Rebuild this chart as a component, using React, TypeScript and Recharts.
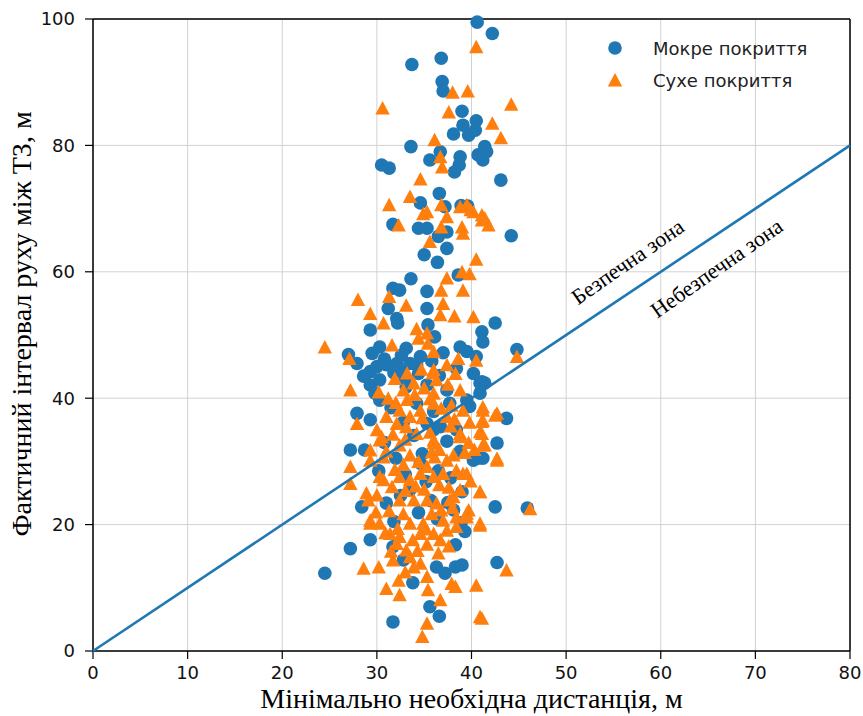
import React from 'react';
import { ScatterChart, Scatter, XAxis, YAxis, CartesianGrid, Legend, ReferenceLine, ReferenceDot } from 'recharts';

// Мокре покриття: [мінімальна дистанція, фактичний інтервал]
const wetPoints: [number, number][] = [
  [40.6, 99.5], [42.2, 97.7], [33.7, 92.8], [36.8, 93.8], [36.9, 90.1], [37.0, 88.6], [39.0, 85.4], [40.5, 83.9],
  [39.1, 83.2], [38.1, 81.8], [39.7, 81.6], [40.4, 82.4], [33.6, 79.8], [36.7, 79.0], [35.6, 77.7], [38.8, 78.2],
  [38.7, 76.9], [38.2, 75.8], [41.4, 79.8], [41.6, 79.0], [41.2, 77.7], [40.7, 78.5], [30.5, 76.9], [31.3, 76.4],
  [43.1, 74.5], [36.6, 72.4], [34.6, 70.9], [37.2, 70.3], [38.9, 70.5], [39.6, 70.4],
  [44.2, 65.7], [31.7, 67.5], [34.4, 66.9], [35.3, 66.9], [37.4, 66.3], [36.5, 65.6], [37.4, 63.7], [35.0, 62.7],
  [36.4, 61.5], [38.6, 59.5], [33.6, 58.9], [31.7, 57.4], [32.4, 57.1], [35.3, 56.9], [31.2, 54.2], [35.3, 54.2],
  [32.1, 52.6], [32.2, 51.9], [29.3, 50.8], [35.4, 51.6], [36.1, 49.7], [42.5, 51.9], [41.1, 50.5], [41.2, 48.9],
  [44.8, 47.7], [27.0, 46.9], [27.9, 45.5], [29.5, 47.1], [30.3, 48.1], [33.1, 47.9], [38.8, 48.1], [39.5, 47.4],
  [40.5, 46.6], [37.0, 47.2],
  [29.3, 44.2], [29.3, 42.1], [31.0, 45.3], [32.1, 45.5], [32.4, 44.5], [33.5, 45.5], [34.2, 45.3], [34.4, 43.9],
  [38.4, 44.7], [40.2, 43.9], [41.1, 42.6], [41.4, 42.4], [30.3, 42.9], [33.1, 41.8], [35.3, 42.1], [37.4, 41.3],
  [40.9, 40.8], [30.0, 45.0], [30.8, 46.2], [31.8, 44.0], [33.0, 43.2], [34.6, 46.6], [35.8, 45.9], [36.6, 43.6],
  [32.6, 46.8], [29.8, 40.8], [28.6, 43.5],
  [27.9, 37.6], [29.3, 36.6], [43.7, 36.8], [27.2, 31.8], [28.7, 31.8], [42.7, 32.9], [40.2, 30.2], [41.2, 30.5],
  [28.4, 22.8], [42.5, 22.8], [39.0, 25.2], [45.9, 22.6], [31.0, 23.4], [37.5, 23.5],
  [30.3, 39.7], [34.2, 39.2], [35.3, 36.0], [36.7, 35.5], [38.4, 35.0], [39.8, 38.7], [37.7, 39.2], [40.7, 30.5],
  [39.5, 39.7], [40.9, 42.4], [36.0, 35.0], [34.6, 29.7], [33.5, 25.5], [38.1, 22.3],
  [31.5, 38.5], [32.8, 36.2], [33.9, 34.1], [30.8, 33.0], [32.0, 30.5], [34.8, 31.2], [36.5, 28.5], [35.2, 26.8],
  [37.8, 27.4], [33.0, 27.9], [38.8, 31.6], [36.0, 37.9], [37.4, 33.2], [30.2, 28.5], [32.5, 24.6], [34.4, 21.9],
  [36.4, 20.9], [38.9, 20.3], [35.7, 23.8], [31.8, 20.5],
  [24.5, 12.3], [27.2, 16.2], [29.3, 17.6], [31.7, 4.6], [33.8, 10.8], [35.6, 7.0], [36.6, 5.5], [36.3, 13.3],
  [37.2, 12.3], [38.3, 13.3], [39.0, 13.6], [38.3, 16.8], [42.7, 14.0], [39.3, 18.9], [32.8, 14.4], [31.7, 16.5],
];

// Сухе покриття
const dryPoints: [number, number][] = [
  [40.5, 95.6], [38.0, 88.4], [39.6, 88.6], [44.2, 86.5], [30.6, 85.9], [37.6, 85.3], [42.2, 83.5], [43.1, 81.2],
  [36.1, 80.9], [36.7, 78.2], [36.9, 76.6], [34.6, 74.7], [33.5, 71.9], [31.3, 70.6], [35.3, 69.5], [36.8, 70.6],
  [38.8, 70.3], [39.9, 69.8], [41.1, 69.0],
  [39.5, 70.6], [40.2, 69.5], [41.1, 68.2], [41.4, 68.5], [41.8, 67.4], [34.9, 69.2], [37.4, 68.7], [32.3, 67.4],
  [36.8, 67.1], [39.0, 67.1], [39.1, 66.1], [35.6, 64.8], [40.5, 62.0], [39.0, 60.0], [39.8, 59.7], [37.4, 59.0],
  [36.8, 57.1], [39.1, 57.1], [28.0, 55.6], [31.3, 56.1], [37.0, 55.0], [33.1, 54.7], [29.3, 53.4], [36.7, 53.2],
  [38.2, 53.0], [40.2, 52.9], [30.7, 51.9], [34.2, 51.0], [35.3, 50.3], [34.4, 49.5], [35.4, 48.7], [36.0, 47.4],
  [24.5, 48.1], [31.6, 48.4], [27.1, 46.3], [40.5, 46.0], [44.8, 46.6], [36.0, 44.5], [37.4, 45.3], [38.3, 43.9],
  [36.3, 42.9], [31.9, 43.1], [33.9, 42.4], [32.8, 41.3], [27.2, 41.3], [30.2, 41.0], [36.0, 40.8], [38.8, 41.3],
  [27.9, 36.0], [27.2, 29.2], [27.2, 26.5], [28.9, 25.0], [29.3, 31.8], [30.5, 33.9], [30.7, 27.1], [29.1, 23.9],
  [40.9, 25.2], [41.2, 38.1], [42.7, 37.6], [41.1, 36.3], [41.1, 34.4], [41.4, 32.6], [42.7, 30.2], [39.7, 22.3],
  [46.2, 22.5], [36.0, 32.9],
  [31.0, 37.1], [32.4, 38.1], [33.5, 37.1], [34.6, 38.1], [36.0, 39.2], [37.4, 37.1], [38.8, 34.4], [39.1, 38.1],
  [32.1, 36.0], [33.1, 35.5], [34.2, 34.4], [32.4, 32.6], [33.5, 31.0], [34.4, 30.0], [35.3, 29.2], [36.1, 30.7],
  [37.4, 30.2], [38.1, 31.0], [32.4, 27.6], [33.5, 27.1], [34.6, 28.1], [36.0, 27.6], [37.0, 28.1], [38.4, 28.6],
  [39.1, 28.1], [30.3, 27.6], [31.6, 26.0], [29.3, 30.2], [30.7, 30.7], [32.4, 23.9], [33.9, 23.9], [35.3, 23.9],
  [36.3, 23.4], [37.7, 23.9], [38.8, 25.5], [29.3, 20.7], [30.3, 20.2], [33.5, 20.2], [34.9, 20.2], [37.0, 20.7],
  [38.4, 21.2], [39.5, 21.2], [40.9, 20.2], [30.0, 35.0], [30.3, 33.4],
  [41.2, 38.6], [42.5, 37.3], [41.2, 36.5], [40.9, 34.7], [41.2, 32.6], [42.7, 30.5], [40.9, 25.2], [38.8, 33.9],
  [36.0, 33.4], [39.5, 28.1], [38.1, 24.4], [39.5, 21.8],
  [31.2, 40.0], [32.0, 39.3], [33.2, 39.8], [34.0, 40.6], [35.0, 41.6], [35.6, 39.9], [36.8, 38.4], [37.9, 38.9],
  [38.2, 36.7], [39.8, 36.2], [39.7, 33.0], [37.8, 35.6], [35.6, 34.6], [34.8, 36.9], [33.0, 33.5], [31.7, 34.3],
  [31.0, 31.6], [32.8, 29.5], [35.8, 31.5], [36.6, 26.3], [37.6, 25.9], [35.0, 25.6], [34.1, 26.1], [33.0, 25.4],
  [31.9, 28.7], [30.0, 24.7], [31.3, 22.2], [32.8, 21.7], [35.8, 21.7], [36.8, 22.3], [38.0, 22.7], [32.2, 19.4],
  [33.8, 17.6], [35.3, 16.9], [35.2, 19.3], [37.6, 16.6], [31.5, 15.8], [34.3, 15.9], [33.0, 12.5], [29.9, 22.0],
  [39.9, 26.9], [40.3, 31.9], [39.3, 31.4], [36.6, 31.9], [35.9, 44.0], [34.7, 44.6], [33.2, 44.0], [38.6, 46.3],
  [37.5, 42.2],
  [28.6, 13.1], [30.2, 13.3], [43.7, 12.8], [31.7, 14.4], [31.0, 9.9], [32.4, 8.9], [32.3, 11.2], [33.9, 13.3],
  [35.3, 11.8], [35.4, 9.7], [36.7, 8.1], [37.9, 10.7], [38.3, 10.2], [40.5, 10.4], [40.9, 5.4], [41.1, 5.2],
  [35.3, 4.4], [34.8, 2.3], [40.9, 19.9], [29.3, 20.2],
  [31.4, 18.6], [32.4, 18.1], [32.1, 17.0], [33.1, 16.0], [33.5, 14.9], [34.6, 18.6], [36.0, 18.6], [36.7, 17.6],
  [37.4, 19.1], [38.4, 19.7], [36.5, 15.5], [34.6, 13.9], [30.9, 18.7],
];

// межа безпечної зони: інтервал = дистанція
const boundary: [number, number][] = [[0, 0], [80, 80]];

const xTicks = [0, 10, 20, 30, 40, 50, 60, 70, 80];
const yTicks = [0, 20, 40, 60, 80, 100];

const seriesNames = ['Мокре покриття', 'Сухе покриття'];
const zoneLabels = [
  { x: 56.5, y: 61.6, text: 'Безпечна зона' },
  { x: 65.9, y: 60.6, text: 'Небезпечна зона' },
];

const BLUE = '#1f77b4';
const ORANGE = '#ff7f0e';
const serif = '"Liberation Serif", "Times New Roman", serif';
const sans = '"DejaVu Sans", sans-serif';

const toXY = (pts: [number, number][]) => pts.map(([x, y]) => ({ x, y }));

const Circle = ({ cx, cy }: any) => <circle cx={cx} cy={cy} r={6.8} fill={BLUE} />;

const Triangle = ({ cx, cy }: any) => (
  <path d={`M${cx},${cy - 7}L${cx + 7.2},${cy + 6.5}L${cx - 7.2},${cy + 6.5}Z`} fill={ORANGE} />
);

const NoDot = () => <g />;

const LegendBox = () => (
  <svg width={250} height={64} style={{ display: 'block' }}>
    <circle cx={15} cy={16} r={6.8} fill={BLUE} />
    <path d="M15,41L22.2,54.5L7.8,54.5Z" fill={ORANGE} />
    <text x={53} y={16} dominantBaseline="central" fontFamily={sans} fontSize={18} fill="#222">{seriesNames[0]}</text>
    <text x={53} y={48} dominantBaseline="central" fontFamily={sans} fontSize={18} fill="#222">{seriesNames[1]}</text>
  </svg>
);

const tickStyle = { fontFamily: sans, fontSize: 18, fill: '#111' };

export default function App() {
  return (
    <div style={{ position: 'absolute', left: 0, top: 0, width: 863, height: 716, background: '#fff' }}>
      <ScatterChart width={863} height={716} margin={{ top: 19, right: 13, bottom: 0, left: 33 }}>
        <CartesianGrid stroke="#d2d2d2" strokeWidth={1} />
        <XAxis
          type="number"
          dataKey="x"
          domain={[0, 80]}
          ticks={xTicks}
          height={65}
          tick={tickStyle}
          tickSize={8}
          tickMargin={7}
          axisLine={{ stroke: '#000', strokeWidth: 1.5 }}
          tickLine={{ stroke: '#000', strokeWidth: 1.2 }}
          label={{
            content: ({ viewBox }: any) => (
              <text x={viewBox.x + viewBox.width / 2} y={viewBox.y + 57} textAnchor="middle" fontFamily={serif} fontSize={28} fill="#000">
                Мінімально необхідна дистанція, м
              </text>
            ),
          }}
        />
        <YAxis
          type="number"
          dataKey="y"
          domain={[0, 100]}
          ticks={yTicks}
          width={60}
          tick={tickStyle}
          tickSize={8}
          tickMargin={10}
          axisLine={{ stroke: '#000', strokeWidth: 1.5 }}
          tickLine={{ stroke: '#000', strokeWidth: 1.2 }}
          label={{
            content: ({ viewBox }: any) => {
              const cx = 21;
              const cy = viewBox.y + viewBox.height / 2 - 11;
              return (
                <text x={cx} y={cy} transform={`rotate(-90 ${cx} ${cy})`} textAnchor="middle" dominantBaseline="central" fontFamily={serif} fontSize={28} fill="#000">
                  Фактичний інтервал руху між ТЗ, м
                </text>
              );
            },
          }}
        />
        <ReferenceLine y={100} stroke="#000" strokeWidth={1.5} />
        <ReferenceLine x={80} stroke="#000" strokeWidth={1.5} />
        <Legend
          layout="vertical"
          align="center"
          verticalAlign="middle"
          wrapperStyle={{ top: 32, left: 600, width: 250 }}
          content={() => <LegendBox />}
        />
        <Scatter name={seriesNames[0]} data={toXY(wetPoints)} shape={Circle} isAnimationActive={false} />
        <Scatter name={seriesNames[1]} data={toXY(dryPoints)} shape={Triangle} isAnimationActive={false} />
        <Scatter
          name="boundary"
          data={toXY(boundary)}
          line={{ stroke: BLUE, strokeWidth: 2.6 }}
          shape={NoDot}
          legendType="none"
          isAnimationActive={false}
        />
        {zoneLabels.map((z) => (
          <ReferenceDot
            key={z.text}
            x={z.x}
            y={z.y}
            r={0}
            shape={({ cx, cy }: any) => (
              <text x={cx} y={cy} transform={`rotate(-35 ${cx} ${cy})`} textAnchor="middle" dominantBaseline="central" fontFamily={serif} fontSize={22} fill="#000">
                {z.text}
              </text>
            )}
          />
        ))}
      </ScatterChart>
    </div>
  );
}
